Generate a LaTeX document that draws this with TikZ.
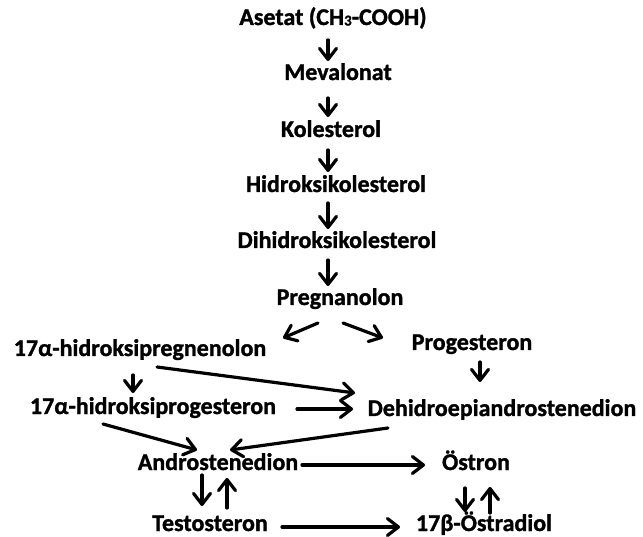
\documentclass[tikz,border=0pt]{standalone}
\usepackage{fontspec}
\setmainfont{Carlito}[BoldFeatures={FakeBold=1.2}]
\usetikzlibrary{arrows.meta,calc}
\begin{document}
\begin{tikzpicture}[x=1pt,y=-1pt,
  lbl/.style={font=\fontsize{24}{28}\selectfont\bfseries, inner sep=0pt, text height=18pt, text depth=4pt},
  conn/.style={line width=3.2pt, line cap=round, -{Straight Barb[length=11pt,width=17pt,line width=3.2pt,round]}}]
\useasboundingbox[fill=white] (0,0) rectangle (643,537);
\node[lbl] (ase) at (333,18) {Asetat (CH\raisebox{-0.5pt}{\fontsize{15}{15}\selectfont 3}-COOH)};
\node[lbl] (mev) at (338,73) {Mevalonat};
\node[lbl] (kol) at (331,130) {Kolesterol};
\node[lbl] (hyd) at (336,185) {Hidroksikolesterol};
\node[lbl] (dih) at (337,241) {Dihidroksikolesterol};
\node[lbl] (pre) at (340,298) {Pregnanolon};
\node[lbl] (hpreg) at (140,349) {17α-hidroksipregnenolon};
\node[lbl] (prog) at (472,343) {Progesteron};
\node[lbl] (hprog) at (153,407) {17α-hidroksiprogesteron};
\node[lbl] (dhea) at (502,409) {Dehidroepiandrostenedion};
\node[lbl] (andro) at (218,463) {Androstenedion};
\node[lbl] (ostron) at (476,463) {Östron};
\node[lbl] (testo) at (210,524) {Testosteron};
\node[lbl] (estra) at (484,524) {17β-Östradiol};

\draw[conn] ($(ase.center)+(-5,22)$) -- ($(mev.center)+(-10,-12)$);
\draw[conn] ($(mev.center)+(-10,25)$) -- ($(kol.center)+(-3,-13)$);
\draw[conn] ($(kol.center)+(-3,20)$) -- ($(hyd.center)+(-8,-13)$);
\draw[conn] ($(hyd.center)+(-8,18)$) -- ($(dih.center)+(-9,-12)$);
\draw[conn] ($(dih.center)+(-9,19)$) -- ($(pre.center)+(-12,-12)$);
\draw[conn] ($(pre.center)+(-22,25)$) -- ($(hpreg.center)+(143,-11)$);
\draw[conn] ($(pre.center)+(3,25)$) -- ($(prog.center)+(-89,-5)$);
\draw[conn] ($(hpreg.center)+(-7,26)$) -- ($(hprog.center)+(-20,-14)$);
\draw[conn] ($(prog.center)+(8,19)$) -- ($(dhea.center)+(-22,-27)$);
\draw[conn] ($(hpreg.center)+(17,18)$) -- ($(dhea.center)+(-147,-16)$);
\draw[conn] ($(hprog.center)+(144,2)$) -- ($(dhea.center)+(-149,0)$);
\draw[conn] ($(hprog.center)+(-50,17)$) -- ($(andro.center)+(-21,-13)$);
\draw[conn] ($(dhea.center)+(-114,19)$) -- ($(andro.center)+(12,-13)$);
\draw[conn] ($(andro.center)+(84,2)$) -- ($(ostron.center)+(-51,2)$);
\draw[conn] ($(andro.center)+(-16,12)$) -- ($(testo.center)+(-8,-18)$);
\draw[conn] ($(testo.center)+(17,-16)$) -- ($(andro.center)+(9,15)$);
\draw[conn] ($(ostron.center)+(-11,25)$) -- ($(estra.center)+(-19,-12)$);
\draw[conn] ($(estra.center)+(6,-11)$) -- ($(ostron.center)+(14,24)$);
\draw[conn] ($(testo.center)+(72,3)$) -- ($(estra.center)+(-84,3)$);
\end{tikzpicture}
\end{document}
